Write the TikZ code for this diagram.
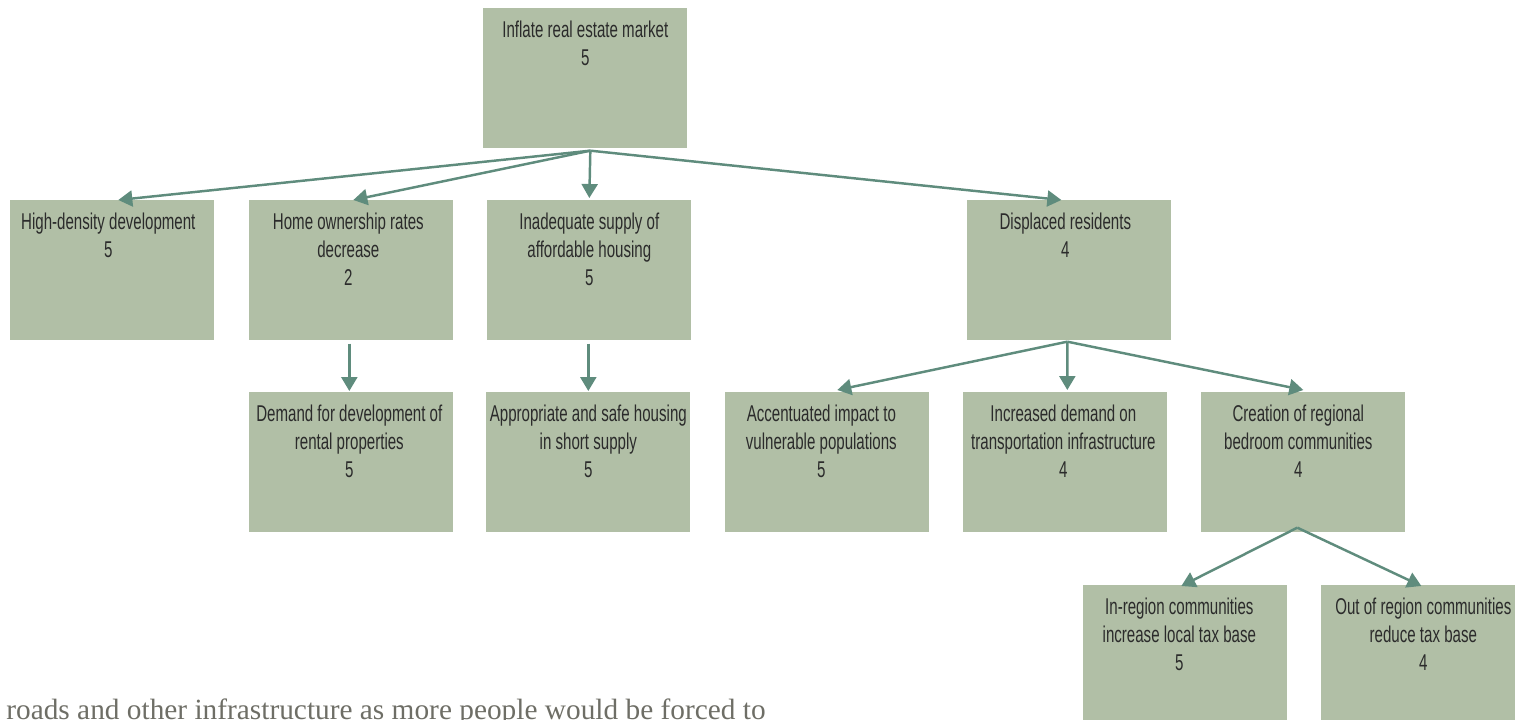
\documentclass[tikz,border=0pt]{standalone}
\usepackage{fontspec}
\usetikzlibrary{arrows.meta}
\newfontfamily\boxfont[FakeStretch=0.66]{Liberation Sans}
\newfontfamily\pagefont{Liberation Serif}
\definecolor{boxc}{HTML}{B1BFA6}
\definecolor{arrc}{HTML}{5F8C7D}
\definecolor{txtc}{HTML}{2B2B2B}
\definecolor{pagec}{HTML}{6E6E66}
\begin{document}
\begin{tikzpicture}[x=0.02cm,y=-0.02cm,
  box/.style={fill=boxc, draw=none, minimum width=4.08cm, minimum height=2.8cm, inner sep=0, anchor=north west},
  lbl/.style={font=\boxfont\fontsize{13}{15.9}\selectfont, text=txtc, align=center, anchor=north, inner sep=0},
  conn/.style={draw=arrc, line width=1.4pt, -{Triangle[length=0.28cm,width=0.32cm]}}]
\clip (0,0) rectangle (1515,720);
% boxes
\node[box] (top) at (483,8) {};
\node[box] (hd) at (10,200) {};
\node[box] (home) at (249,200) {};
\node[box] (inad) at (487,200) {};
\node[box] (disp) at (967,200) {};
\node[box] (dem) at (249,392) {};
\node[box] (appr) at (486,392) {};
\node[box] (acc) at (725,392) {};
\node[box] (incr) at (963,392) {};
\node[box] (crea) at (1201,392) {};
\node[box] (inreg) at (1083,585) {};
\node[box] (outreg) at (1321,585) {};
% labels
\node[lbl] (topt) at ([yshift=-0.26cm]top.north) {Inflate real estate market\\5};
\node[lbl] (hdt) at ([yshift=-0.26cm,xshift=-0.08cm]hd.north) {High-density development\\5};
\node[lbl] (homet) at ([yshift=-0.26cm,xshift=-0.06cm]home.north) {Home ownership rates\\decrease\\2};
\node[lbl] (inadt) at ([yshift=-0.26cm]inad.north) {Inadequate supply of\\affordable housing\\5};
\node[lbl] (dispt) at ([yshift=-0.26cm,xshift=-0.08cm]disp.north) {Displaced residents\\4};
\node[lbl] (demt) at ([yshift=-0.26cm,xshift=-0.04cm]dem.north) {Demand for development of\\rental properties\\5};
\node[lbl] (apprt) at ([yshift=-0.26cm]appr.north) {Appropriate and safe housing\\in short supply\\5};
\node[lbl] (acct) at ([yshift=-0.26cm,xshift=-0.12cm]acc.north) {Accentuated impact to\\vulnerable populations\\5};
\node[lbl] (incrt) at ([yshift=-0.26cm,xshift=-0.04cm]incr.north) {Increased demand on\\transportation infrastructure\\4};
\node[lbl] (creat) at ([yshift=-0.26cm,xshift=-0.1cm]crea.north) {Creation of regional\\bedroom communities\\4};
\node[lbl] (inregt) at ([yshift=-0.26cm,xshift=-0.12cm]inreg.north) {In-region communities\\increase local tax base\\5};
\node[lbl] (outregt) at ([yshift=-0.26cm]outreg.north) {Out of region communities\\reduce tax base\\4};
% connectors
\coordinate (topout) at ([xshift=0.1cm,yshift=-0.04cm]top.south);
\draw[conn] (topout) -- ([xshift=0.12cm]hd.north);
\draw[conn] (topout) -- ([xshift=0.04cm]home.north);
\draw[conn] (topout) -- ([yshift=0.04cm]inad.north);
\draw[conn] (topout) -- ([xshift=-0.16cm]disp.north);
\draw[conn] ([xshift=-0.04cm,yshift=-0.06cm]home.south) -- ([xshift=-0.04cm,yshift=0.02cm]dem.north);
\draw[conn] ([xshift=-0.02cm,yshift=-0.06cm]inad.south) -- ([yshift=0.02cm]appr.north);
\coordinate (dispout) at ([xshift=-0.04cm,yshift=-0.02cm]disp.south);
\draw[conn] (dispout) -- ([xshift=0.2cm,yshift=0.04cm]acc.north);
\draw[conn] (dispout) -- ([xshift=0.04cm,yshift=0.04cm]incr.north);
\draw[conn] (dispout) -- ([yshift=0.04cm]crea.north);
\coordinate (creaout) at ([xshift=-0.12cm,yshift=0.1cm]crea.south);
\draw[conn] (creaout) -- ([xshift=-0.08cm,yshift=-0.02cm]inreg.north);
\draw[conn] (creaout) -- ([xshift=-0.04cm,yshift=-0.02cm]outreg.north);
% page text (cut at the lower edge, as in the reference)
\node[anchor=base west, inner sep=0, font=\pagefont\fontsize{16.7}{20}\selectfont, text=pagec] (para) at (6,719) {roads and other infrastructure as more people would be forced to};
\end{tikzpicture}
\end{document}
